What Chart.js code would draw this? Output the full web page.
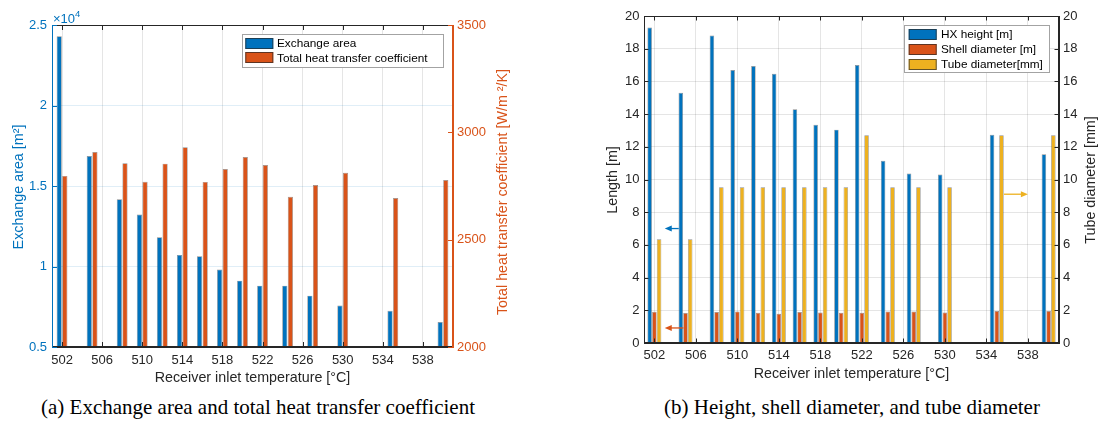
<!DOCTYPE html>
<html>
<head>
<meta charset="utf-8">
<script src="https://cdn.jsdelivr.net/npm/chart.js@4.4.0/dist/chart.umd.min.js"></script>
<style>
  body { margin: 0; background: #fff; }
  #wrap { position: relative; width: 1099px; height: 423px; }
  canvas { position: absolute; top: 0; }
  .cap { position: absolute; top: 395px; font: 21px "Liberation Serif", "Times New Roman", serif; color: #000; white-space: nowrap; transform: translateX(-50%); }
</style>
</head>
<body>
<div id="wrap">
  <canvas id="chartA" width="549" height="392" style="left:0"></canvas>
  <canvas id="chartB" width="550" height="392" style="left:549px"></canvas>
  <div class="cap" style="left:258px">(a) Exchange area and total heat transfer coefficient</div>
  <div class="cap" style="left:852px">(b) Height, shell diameter, and tube diameter</div>
</div>
<script>
// receiver inlet temperature [°C] for each design case
const temps = [502, 505, 508, 510, 512, 514, 516, 518, 520, 522, 524.5, 527, 530, 535, 540];
const xTicks = [502, 506, 510, 514, 518, 522, 526, 530, 534, 538];

// (a) exchanger area [m2] and overall U [W/m2/K]
const exchangeArea = [24300, 16860, 14170, 13230, 11820, 10720, 10640, 9810, 9120, 8810, 8810, 8190, 7570, 7250, 6550];
const heatTransferCoeff = [2797, 2908, 2856, 2770, 2854, 2930, 2769, 2829, 2885, 2848, 2700, 2755, 2812, 2694, 2778];

// (b) geometry
const hxHeight = [19.3, 15.3, 18.8, 16.7, 16.94, 16.47, 14.29, 13.35, 13.05, 17.0, 11.15, 10.37, 10.31, 12.74, 11.54];
const shellDiameter = [1.91, 1.83, 1.89, 1.93, 1.85, 1.79, 1.89, 1.87, 1.85, 1.85, 1.93, 1.93, 1.87, 1.95, 1.95];
const tubeDiameter = [6.35, 6.35, 9.525, 9.525, 9.525, 9.525, 9.525, 9.525, 9.525, 12.7, 9.525, 9.525, 9.525, 12.7, 12.7];

const BLUE = '#0072BD', ORANGE = '#D95319', YELLOW = '#EDB120', AXIS = '#262626';
const FONT = '"Liberation Sans", Arial, Helvetica, sans-serif';
const EDGE = 'rgba(30,30,30,0.5)';

// matlab-ish box: inward ticks, top border, titles drawn bottom-to-top, boxed legend
const matlabAxes = {
  id: 'matlabAxes',
  afterDatasetsDraw(chart, args, opts) {
    const { ctx, chartArea: a, scales } = chart;
    const tl = opts.tickLen;
    ctx.save();
    ctx.lineWidth = 1;
    const line = (x1, y1, x2, y2, c) => {
      ctx.strokeStyle = c;
      ctx.beginPath(); ctx.moveTo(x1, y1); ctx.lineTo(x2, y2); ctx.stroke();
    };
    const yl = scales.y.options.border.color, yr = scales.y1.options.border.color;
    line(a.left, a.top + 0.5, a.right, a.top + 0.5, AXIS);
    line(a.left, a.bottom - 0.5, a.right, a.bottom - 0.5, AXIS);
    line(a.left + 0.5, a.top, a.left + 0.5, a.bottom, yl);
    line(a.right - 0.5, a.top, a.right - 0.5, a.bottom, yr);
    scales.x.ticks.forEach(t => {
      const px = Math.round(scales.x.getPixelForValue(t.value)) + 0.5;
      line(px, a.bottom, px, a.bottom - tl, AXIS);
      line(px, a.top, px, a.top + tl, AXIS);
    });
    scales.y.ticks.forEach(t => {
      const py = Math.round(scales.y.getPixelForValue(t.value)) + 0.5;
      line(a.left, py, a.left + tl, py, yl);
    });
    scales.y1.ticks.forEach(t => {
      const py = Math.round(scales.y1.getPixelForValue(t.value)) + 0.5;
      line(a.right, py, a.right - tl, py, yr);
    });

    // axis pointers
    (opts.arrows || []).forEach(ar => {
      const x1 = scales.x.getPixelForValue(ar.from), x2 = scales.x.getPixelForValue(ar.to);
      const y = scales[ar.axis].getPixelForValue(ar.y);
      const d = Math.sign(x2 - x1);
      ctx.lineWidth = 1.3;
      line(x1, y, x2 - d * 5, y, ar.color);
      ctx.fillStyle = ar.color;
      ctx.beginPath();
      ctx.moveTo(x2, y); ctx.lineTo(x2 - d * 7, y - 3); ctx.lineTo(x2 - d * 7, y + 3);
      ctx.closePath(); ctx.fill();
    });
    ctx.restore();
  },
  afterDraw(chart, args, opts) {
    const { ctx, chartArea: a } = chart;
    ctx.save();
    ctx.textAlign = 'center';
    ctx.textBaseline = 'middle';
    ctx.font = '14.3px ' + FONT;
    ctx.fillStyle = AXIS;
    ctx.fillText(opts.xTitle, (a.left + a.right) / 2, opts.xTitleY);
    const vText = (t, x, y, c) => {
      ctx.save(); ctx.fillStyle = c; ctx.translate(x, y); ctx.rotate(-Math.PI / 2);
      ctx.fillText(t, 0, 0); ctx.restore();
    };
    vText(opts.yTitle.text, opts.yTitle.x, opts.yTitle.y, opts.yTitle.color);
    vText(opts.y1Title.text, opts.y1Title.x, opts.y1Title.y, opts.y1Title.color);

    if (opts.exponent) {
      ctx.textAlign = 'left';
      ctx.textBaseline = 'alphabetic';
      ctx.fillStyle = BLUE;
      ctx.font = '13px ' + FONT;
      ctx.fillText('×10', a.left + 1, a.top - 2);
      const w = ctx.measureText('×10').width;
      ctx.font = '9.5px ' + FONT;
      ctx.fillText(opts.exponent, a.left + 1 + w, a.top - 8);
    }

    const L = opts.legend;
    const bx = Math.round(a.right - L.right - L.width), by = Math.round(a.top + L.top);
    ctx.fillStyle = '#fff';
    ctx.fillRect(bx, by, L.width, L.height);
    ctx.strokeStyle = '#a3a3a3';
    ctx.lineWidth = 1;
    ctx.strokeRect(bx + 0.5, by + 0.5, L.width, L.height);
    ctx.font = '11.8px ' + FONT;
    ctx.textAlign = 'left';
    ctx.textBaseline = 'middle';
    chart.data.datasets.forEach((ds, i) => {
      const cy = by + L.first + i * L.row;
      ctx.fillStyle = ds.backgroundColor;
      ctx.fillRect(bx + L.swatchX, Math.round(cy - 5.5), 28, 11);
      ctx.strokeStyle = 'rgba(40,40,40,0.7)';
      ctx.strokeRect(bx + L.swatchX + 0.5, Math.round(cy - 5.5) + 0.5, 27, 10);
      ctx.fillStyle = '#000';
      ctx.fillText(ds.label, bx + L.textX, cy + 0.5);
    });
    ctx.restore();
  }
};

const numLabel = v => String(v);

function xScale(height, pad) {
  return {
    type: 'linear', min: 501, max: 541, offset: false,
    afterBuildTicks: s => { s.ticks = xTicks.map(v => ({ value: v })); },
    afterFit: s => { s.height = height; },
    ticks: { color: AXIS, font: { family: FONT, size: 13 }, padding: pad, maxRotation: 0, autoSkip: false, callback: numLabel },
    grid: { color: 'rgba(38,38,38,0.12)', drawTicks: false, offset: false },
    border: { color: AXIS }
  };
}

function yScale(pos, min, max, step, width, pad, color, gridColor, cb) {
  return {
    type: 'linear', position: pos, min: min, max: max,
    afterFit: s => { s.width = width; },
    ticks: { stepSize: step, color: color, font: { family: FONT, size: 13 }, padding: pad, callback: cb || numLabel },
    grid: gridColor ? { color: gridColor, drawTicks: false } : { drawOnChartArea: false, drawTicks: false },
    border: { color: color }
  };
}

const barStyle = { borderColor: EDGE, borderWidth: 0.7 };

new Chart(document.getElementById('chartA'), {
  type: 'bar',
  data: {
    labels: temps,
    datasets: [
      Object.assign({ label: 'Exchange area', data: exchangeArea, backgroundColor: BLUE, yAxisID: 'y' }, barStyle),
      Object.assign({ label: 'Total heat transfer coefficient', data: heatTransferCoeff, backgroundColor: ORANGE, yAxisID: 'y1' }, barStyle)
    ]
  },
  options: {
    responsive: false,
    animation: false,
    events: [],
    categoryPercentage: 0.56,
    barPercentage: 0.92,
    layout: { padding: { top: 25, left: 0, right: 0, bottom: 0 } },
    scales: {
      x: xScale(45, 6),
      y: yScale('left', 5000, 25000, 5000, 52, 5, BLUE, 'rgba(0,114,189,0.12)', v => String(v / 1e4)),
      y1: yScale('right', 2000, 3500, 500, 96, 4, ORANGE, null)
    },
    plugins: {
      legend: { display: false },
      tooltip: { enabled: false },
      matlabAxes: {
        tickLen: 5,
        xTitle: 'Receiver inlet temperature [°C]', xTitleY: 378,
        yTitle: { text: 'Exchange area [m²]', x: 19, y: 187, color: BLUE },
        y1Title: { text: 'Total heat transfer coefficient [W/m ²/K]', x: 503, y: 192, color: ORANGE },
        exponent: '4',
        legend: { right: 10, top: 9, width: 201, height: 33, first: 9.2, row: 14.6, swatchX: 3.3, textX: 35 }
      }
    }
  },
  plugins: [matlabAxes]
});

new Chart(document.getElementById('chartB'), {
  type: 'bar',
  data: {
    labels: temps,
    datasets: [
      Object.assign({ label: 'HX height [m]', data: hxHeight, backgroundColor: BLUE, yAxisID: 'y' }, barStyle),
      Object.assign({ label: 'Shell diameter [m]', data: shellDiameter, backgroundColor: ORANGE, yAxisID: 'y' }, barStyle),
      Object.assign({ label: 'Tube diameter[mm]', data: tubeDiameter, backgroundColor: YELLOW, yAxisID: 'y1' }, barStyle)
    ]
  },
  options: {
    responsive: false,
    animation: false,
    events: [],
    categoryPercentage: 0.68,
    barPercentage: 0.96,
    layout: { padding: { top: 16, left: 0, right: 0, bottom: 0 } },
    scales: {
      x: xScale(49, 5),
      y: yScale('left', 0, 20, 2, 95, 4.5, AXIS, 'rgba(38,38,38,0.12)'),
      y1: yScale('right', 0, 20, 2, 40, 4, AXIS, null)
    },
    plugins: {
      legend: { display: false },
      tooltip: { enabled: false },
      matlabAxes: {
        tickLen: 4.5,
        xTitle: 'Receiver inlet temperature [°C]', xTitleY: 374,
        yTitle: { text: 'Length [m]', x: 64, y: 180, color: AXIS },
        y1Title: { text: 'Tube diameter [mm]', x: 542.5, y: 180, color: AXIS },
        legend: { right: 9.7, top: 9.4, width: 145, height: 47, first: 9, row: 15, swatchX: 4.7, textX: 37 },
        arrows: [
          { from: 504.35, to: 503.0, y: 7, axis: 'y', color: BLUE },
          { from: 504.8, to: 503.0, y: 0.92, axis: 'y', color: ORANGE },
          { from: 535.7, to: 538.0, y: 9.1, axis: 'y1', color: YELLOW }
        ]
      }
    }
  },
  plugins: [matlabAxes]
});
</script>
</body>
</html>
